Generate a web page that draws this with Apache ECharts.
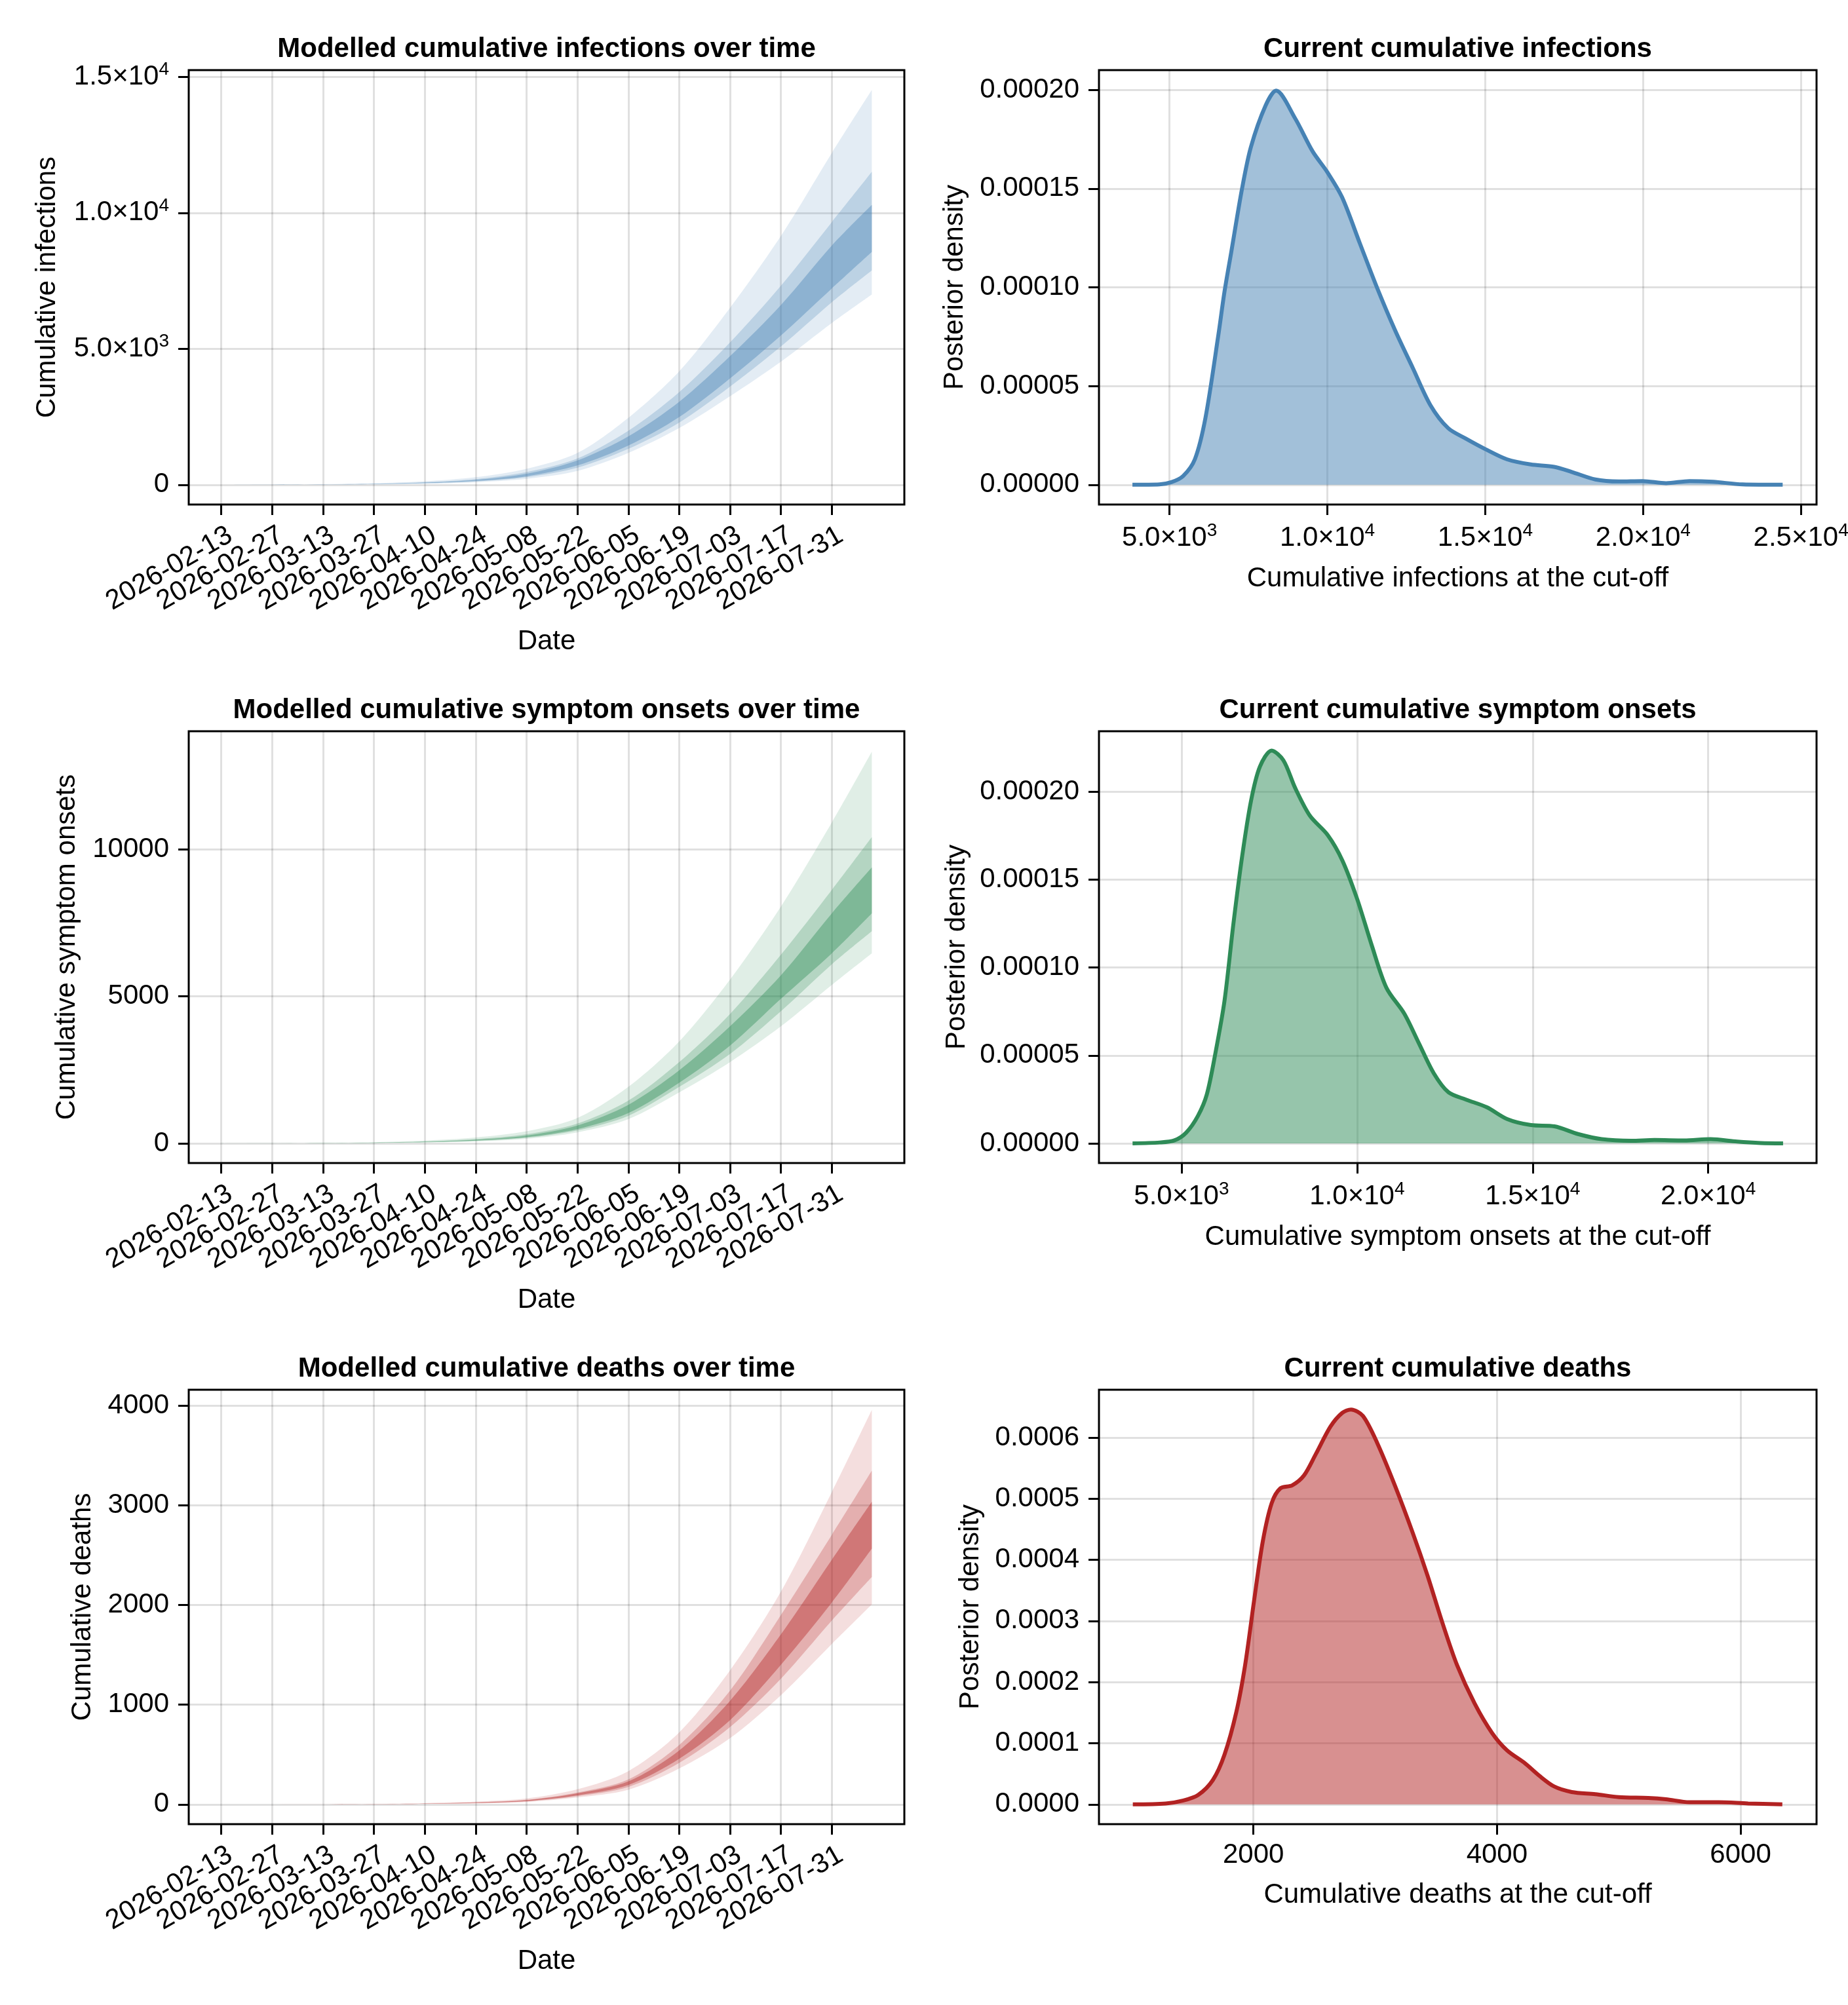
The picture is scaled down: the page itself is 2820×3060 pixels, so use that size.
<!DOCTYPE html>
<html><head><meta charset="utf-8">
<script src="https://cdn.jsdelivr.net/npm/echarts@6/dist/echarts.min.js"></script>
<style>html,body{margin:0;padding:0;background:#fff}#c{width:2820px;height:3060px}</style>
</head><body><div id="c"></div>
<script>
// ---------- data ----------
const startDate = [2026, 1, 13];              // day 0 = 2026-02-13
const dateTickDays = [0,14,28,42,56,70,84,98,112,126,140,154,168];
const days = [0,14,28,42,56,70,84,98,112,126,140,154,168,179];

const infOuterUp = [2,8,22,55,130,280,589,1170,2461,4170,6509,9153,12204,14523];
const infMidUp   = [2,6,16,40,95,210,466,966,1983,3407,5238,7322,9662,11512];
const infInnerUp = [1,5,13,34,82,180,405,895,1780,3051,4729,6611,8797,10292];
const infInnerLo = [1,4,10,26,62,140,313,712,1444,2492,3915,5492,7221,8563];
const infMidLo   = [1,3,9,22,55,125,283,631,1322,2288,3610,5085,6712,7882];
const infOuterLo = [0,2,6,16,40,95,220,509,1170,2085,3254,4526,5949,6997];

const symOuterUp = [1,6,16,40,95,200,410,861,1919,3464,5571,8052,10908,13314];
const symMidUp   = [1,4,11,29,68,145,310,674,1451,2762,4401,6414,8614,10412];
const symInnerUp = [1,4,10,25,58,125,270,609,1311,2481,3979,5711,7818,9382];
const symInnerLo = [1,3,7,19,44,95,210,487,1030,2060,3324,4916,6461,7818];
const symMidLo   = [0,2,6,16,39,85,190,440,936,1919,3043,4494,6086,7209];
const symOuterLo = [0,2,5,12,29,65,155,375,824,1732,2762,3979,5384,6460];

const dthOuterUp = [0,1,2,5,13,28,60,152,333,721,1344,2134,3132,3956];
const dthMidUp   = [0,0,1,4,9,21,46,119,250,596,1141,1899,2703,3346];
const dthInnerUp = [0,0,1,3,8,19,42,111,230,541,1039,1705,2453,3035];
const dthInnerLo = [0,0,1,2,6,15,34,91,194,457,845,1400,2024,2564];
const dthMidLo   = [0,0,1,2,5,13,30,83,175,416,776,1261,1843,2281];
const dthOuterLo = [0,0,0,1,4,10,24,69,147,360,665,1095,1608,2004];

const infDensX = [3825,4683,5056,5429,5802,6138,6549,6735,6959,7295,7575,8041,8377,8974,9534,10000,10466,11026,11586,12146,12705,13265,13825,14385,15000,15690,16437,17183,17743,18489,19235,19981,20727,21474,22220,23153,24422];
const infDensY = [0,0.0000002,0.0000013,0.0000044,0.0000129,0.0000339,0.0000761,0.0000972,0.0001182,0.0001498,0.0001709,0.000192,0.0001996,0.0001857,0.0001688,0.0001583,0.0001456,0.0001224,0.0000993,0.0000782,0.0000592,0.0000403,0.0000287,0.0000234,0.0000181,0.0000129,0.0000103,0.0000091,0.0000065,0.0000027,0.0000017,0.0000019,0.0000008,0.0000019,0.0000015,0.0000002,0];

const symDensX = [3607,4379,4799,5134,5470,5721,5973,6225,6477,6728,6980,7232,7567,7903,8238,8658,9161,9581,10000,10420,10839,11342,11762,12181,12601,13104,13692,14279,14950,15621,16292,16963,17802,18473,19312,20067,20823,21494,22132];
const symDensY = [0,0.0000005,0.0000017,0.0000061,0.0000157,0.0000278,0.0000521,0.0000811,0.0001247,0.0001634,0.0001949,0.0002143,0.0002235,0.0002179,0.0002022,0.0001864,0.0001755,0.000161,0.0001392,0.0001126,0.0000884,0.0000739,0.0000569,0.00004,0.0000291,0.0000249,0.0000206,0.0000138,0.0000104,0.0000097,0.0000053,0.0000024,0.0000015,0.0000019,0.0000017,0.0000024,0.000001,0.0000002,0];

const dthDensX = [1010,1280,1425,1546,1667,1763,1860,1932,2005,2077,2150,2222,2319,2415,2512,2633,2729,2802,2899,3019,3164,3309,3430,3551,3672,3816,3961,4082,4227,4348,4469,4614,4807,5000,5242,5387,5580,5821,6063,6343];
const dthDensY = [0,0.0000014,0.0000063,0.0000153,0.0000397,0.0000815,0.0001512,0.0002279,0.0003324,0.00043,0.0004927,0.0005171,0.000522,0.000538,0.0005728,0.0006181,0.0006404,0.000646,0.0006355,0.0005902,0.0005206,0.0004439,0.0003742,0.0002976,0.0002279,0.0001652,0.0001164,0.0000885,0.0000676,0.0000467,0.0000293,0.0000202,0.0000167,0.0000118,0.0000105,0.0000084,0.0000035,0.0000035,0.0000014,0];

const infYTicks = [0,5000,10000,15000];
const symYTicks = [0,5000,10000];
const dthYTicks = [0,1000,2000,3000,4000];
const infDensXTicks = [5000,10000,15000,20000,25000];
const symDensXTicks = [5000,10000,15000,20000];
const dthDensXTicks = [2000,4000,6000];
const densYTicks12 = [0,0.00005,0.0001,0.00015,0.0002];
const densYTicks3 = [0,0.0001,0.0002,0.0003,0.0004,0.0005,0.0006];

// ---------- style ----------
const FONT = '"Liberation Sans", Arial, Helvetica, sans-serif';
const FS = 42;
const colors = {inf:'#4682B4', sym:'#2E8B57', dth:'#B22222'};
const bandAlpha = [0.15, 0.25, 0.4];

function hexA(hex, a){
  const r=parseInt(hex.slice(1,3),16), g=parseInt(hex.slice(3,5),16), b=parseInt(hex.slice(5,7),16);
  return 'rgba('+r+','+g+','+b+','+a+')';
}
function fmtDate(d){
  const t = Date.UTC(startDate[0], startDate[1], startDate[2]) + Math.round(d)*86400000;
  return new Date(t).toISOString().slice(0,10);
}
function sci(v){
  if (Math.abs(v) < 1e-12) return '0';
  const e = Math.floor(Math.log10(Math.abs(v)) + 1e-9);
  const m = (v/Math.pow(10,e)).toFixed(1);
  return '{m|' + m + '×10}{e|' + e + '}';
}
const richSci = {
  m:{fontSize:FS, fontFamily:FONT, color:'#000'},
  e:{fontSize:28, fontFamily:FONT, color:'#000', padding:[0,0,22,0]}
};

const grids = [
  {left:288, top:107, width:1092, height:663},
  {left:1677, top:107, width:1095, height:663},
  {left:288, top:1116, width:1092, height:659},
  {left:1677, top:1116, width:1095, height:659},
  {left:288, top:2121, width:1092, height:663},
  {left:1677, top:2121, width:1095, height:663}
].map(g => Object.assign(g, {show:true, borderColor:'#000', borderWidth:3, backgroundColor:'transparent', containLabel:false, outerBoundsMode:'none'}));

function axisBase(ticks, labelTicks, formatter, extra){
  const a = {
    type:'value',
    axisLine:{show:false, onZero:false},
    axisTick:{show:true, inside:false, length:16, lineStyle:{color:'#000', width:3}, customValues:ticks},
    splitLine:{show:true, lineStyle:{color:'rgba(0,0,0,0.12)', width:3}},
    axisLabel:{customValues:labelTicks, formatter:formatter, fontSize:FS, fontFamily:FONT, color:'#000',
      hideOverlap:false, showMinLabel:true, showMaxLabel:true, rich:richSci},
    nameTextStyle:{fontSize:FS, fontFamily:FONT, color:'#000'},
    nameLocation:'middle'
  };
  return Object.assign(a, extra || {});
}

const xAxes = [], yAxes = [], series = [];
const evenDates = dateTickDays.filter((d,i) => i % 2 === 0);
const oddDates = dateTickDays.filter((d,i) => i % 2 === 1);
function styleDateLabels(a){
  a.axisLabel.rotate = 30; a.axisLabel.margin = 52; a.axisLabel.padding = [0,-16,0,0];
  return a;
}
function dateX(gi){
  return styleDateLabels(axisBase(dateTickDays, evenDates, v => fmtDate(v), {gridIndex:gi, position:'bottom', min:-8.95, max:187.95, name:'Date', nameGap:188}));
}
function dateXOdd(gi){
  const a = styleDateLabels(axisBase(oddDates, oddDates, v => fmtDate(v), {gridIndex:gi, position:'bottom', offset:0, min:-8.95, max:187.95}));
  a.axisTick.show = false; a.splitLine.show = false;
  return a;
}
xAxes.push(dateX(0));
xAxes.push(axisBase(infDensXTicks, infDensXTicks, sci, {gridIndex:1, min:2765, max:25495, name:'Cumulative infections at the cut-off', nameGap:92}));
xAxes.push(dateX(2));
xAxes.push(axisBase(symDensXTicks, symDensXTicks, sci, {gridIndex:3, min:2650, max:23085, name:'Cumulative symptom onsets at the cut-off', nameGap:92}));
xAxes.push(dateX(4));
xAxes.push(axisBase(dthDensXTicks, dthDensXTicks, v => String(v), {gridIndex:5, min:732, max:6624, name:'Cumulative deaths at the cut-off', nameGap:87}));
[1,3,5].forEach(i => { xAxes[i].axisLabel.margin = 26; });
xAxes.push(dateXOdd(0));
xAxes.push(dateXOdd(2));
xAxes.push(dateXOdd(4));

yAxes.push(axisBase(infYTicks, infYTicks, sci, {gridIndex:0, min:-726, max:15250, name:'Cumulative infections', nameGap:195}));
yAxes.push(axisBase(densYTicks12, densYTicks12, v => v.toFixed(5), {gridIndex:1, min:-0.00001, max:0.00021, name:'Posterior density', nameGap:199}));
yAxes.push(axisBase(symYTicks, symYTicks, v => String(v), {gridIndex:2, min:-668, max:14010, name:'Cumulative symptom onsets', nameGap:165}));
yAxes.push(axisBase(densYTicks12, densYTicks12, v => v.toFixed(5), {gridIndex:3, min:-0.0000112, max:0.0002345, name:'Posterior density', nameGap:196}));
yAxes.push(axisBase(dthYTicks, dthYTicks, v => String(v), {gridIndex:4, min:-198, max:4158, name:'Cumulative deaths', nameGap:141}));
yAxes.push(axisBase(densYTicks3, densYTicks3, v => v.toFixed(4), {gridIndex:5, min:-0.0000324, max:0.0006783, name:'Posterior density', nameGap:175}));
yAxes.forEach(a => { a.axisLabel.margin = 30; });

// Bands: data items are [value, day] with encode so that the stacked dimension is the y value.
function addBands(ai, color, bands, key){
  bands.forEach((b, k) => {
    const lo = b[0], up = b[1], stack = key + k;
    series.push({type:'line', xAxisIndex:ai, yAxisIndex:ai, stack:stack, symbol:'none', smooth:0.3,
      encode:{x:1, y:0}, lineStyle:{opacity:0, width:0}, data: days.map((d,j) => [lo[j], d]), silent:true, z:2+k});
    series.push({type:'line', xAxisIndex:ai, yAxisIndex:ai, stack:stack, symbol:'none', smooth:0.3,
      encode:{x:1, y:0}, lineStyle:{opacity:0, width:0}, areaStyle:{color:hexA(color, bandAlpha[k]), opacity:1},
      data: days.map((d,j) => [up[j]-lo[j], d]), silent:true, z:2+k});
  });
}
function addDensity(ai, color, xs, ys){
  series.push({type:'line', xAxisIndex:ai, yAxisIndex:ai, symbol:'none', smooth:0.3,
    lineStyle:{color:color, width:6}, areaStyle:{color:hexA(color,0.5), opacity:1},
    data: xs.map((x,j) => [x, ys[j]]), z:3});
}
addBands(0, colors.inf, [[infOuterLo, infOuterUp],[infMidLo, infMidUp],[infInnerLo, infInnerUp]], 'inf');
addDensity(1, colors.inf, infDensX, infDensY);
addBands(2, colors.sym, [[symOuterLo, symOuterUp],[symMidLo, symMidUp],[symInnerLo, symInnerUp]], 'sym');
addDensity(3, colors.sym, symDensX, symDensY);
addBands(4, colors.dth, [[dthOuterLo, dthOuterUp],[dthMidLo, dthMidUp],[dthInnerLo, dthInnerUp]], 'dth');
addDensity(5, colors.dth, dthDensX, dthDensY);

const titleTexts = ['Modelled cumulative infections over time','Current cumulative infections',
  'Modelled cumulative symptom onsets over time','Current cumulative symptom onsets',
  'Modelled cumulative deaths over time','Current cumulative deaths'];
const titles = titleTexts.map((t,i) => {
  const g = grids[i];
  return {text:t, left:g.left + g.width/2, top:g.top - 53, textAlign:'center', padding:0,
    textStyle:{fontSize:FS, fontWeight:'bold', fontFamily:FONT, color:'#000'}};
});

const chart = echarts.init(document.getElementById('c'), null, {renderer:'canvas'});
chart.setOption({
  backgroundColor:'#fff',
  animation:false,
  title:titles,
  grid:grids,
  xAxis:xAxes,
  yAxis:yAxes,
  series:series
});
</script>
</body></html>
